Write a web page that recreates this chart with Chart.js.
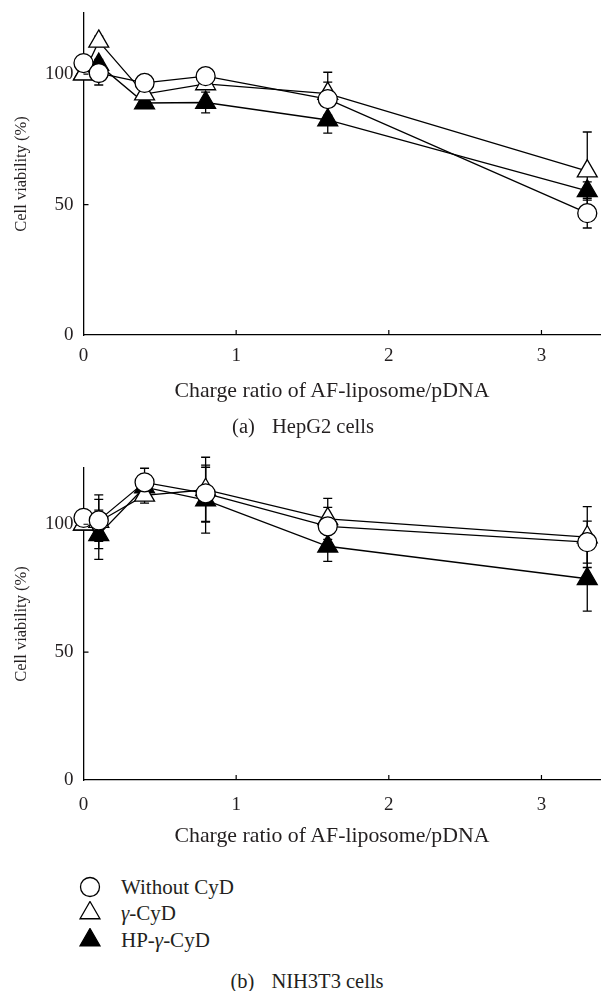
<!DOCTYPE html>
<html>
<head>
<meta charset="utf-8">
<script src="https://cdn.jsdelivr.net/npm/chart.js@4.4.1/dist/chart.umd.min.js"></script>
<style>
  html, body { margin: 0; padding: 0; background: #fff; }
  body { width: 601px; height: 991px; position: relative; overflow: hidden;
         font-family: 'Liberation Serif', 'Times New Roman', serif; color: #231f20; }
  canvas { position: absolute; left: 0; }
  .txt { position: absolute; white-space: pre; text-align: center; width: 500px; height: 26px; line-height: 26px; }
  .txt b { font-weight: normal; margin-left: 12px; }
  .leg { position: absolute; left: 78px; height: 26px; line-height: 26px; font-size: 21px; white-space: pre; }
  .leg svg { position: absolute; left: 0; top: 1px; }
  .leg span { position: absolute; left: 43px; top: 0; }
</style>
</head>
<body>
<canvas id="chartA" width="601" height="400" style="top:0"></canvas>
<canvas id="chartB" width="601" height="400" style="top:440px"></canvas>

<div class="txt" style="left:82px;top:377px;font-size:21.8px">Charge ratio of AF-liposome/pDNA</div>
<div class="txt" style="left:53px;top:413px;font-size:20.5px">(a) <b>HepG2 cells</b></div>
<div class="txt" style="left:82px;top:822px;font-size:21.8px">Charge ratio of AF-liposome/pDNA</div>
<div id="legend"></div>
<div class="txt" style="left:57px;top:968px;font-size:20.5px">(b) <b>NIH3T3 cells</b></div>

<script>
// ---------- dados
const ratios = [0, 0.1, 0.4, 0.8, 1.6, 3.3];
const seriesNames = ['Without CyD', 'γ-CyD', 'HP-γ-CyD'];
const xTicks = [0, 1, 2, 3];
const yTicks = [0, 50, 100];

// (a) HepG2
const hepWithout    = [104.2, 100.4, 96.6, 99.2, 90.4, 46.7];
const hepWithoutErr = [0, 4.6, 0, 2, 6.5, 5.7];
const hepGamma      = [100, 112.5, 92.3, 96.2, 92.5, 62.8];
const hepGammaErr   = [0, 2, 2, 2, 8.2, 15];
const hepHP         = [100, 103.6, 88.9, 89.1, 82.4, 55.2];
const hepHPErr      = [0, 2, 2, 4, 5, 3.5];

// (b) NIH3T3
const nihWithout    = [102.5, 101.5, 116.4, 112.1, 99.2, 93];
const nihWithoutErr = [0, 8.2, 5.5, 11, 7.4, 8.2];
const nihGamma      = [100, 101, 111.3, 113.5, 102.1, 95];
const nihGammaErr   = [0, 10.5, 3, 12.7, 8, 11.9];
const nihHP         = [100, 95.9, 114.5, 109.4, 91.4, 78.7];
const nihHPErr      = [0, 9.6, 3, 12.9, 5.9, 12.7];

const INK = '#231f20';
const FONT = "'Liberation Serif', 'Times New Roman', serif";

const markers = [
  { pointStyle: 'circle',   radius: 9.5,  fill: '#fff' },
  { pointStyle: 'triangle', radius: 11.5, fill: '#fff' },
  { pointStyle: 'triangle', radius: 11.5, fill: '#000' }
];

// barras de erro (desenhadas por baixo dos marcadores)
const errorBars = {
  id: 'errorBars',
  beforeDatasetsDraw(chart) {
    const { ctx } = chart;
    const y = chart.scales.y;
    ctx.save();
    ctx.strokeStyle = '#000';
    ctx.lineWidth = 1.3;
    chart.data.datasets.forEach((ds, di) => {
      const meta = chart.getDatasetMeta(di);
      meta.data.forEach((pt, i) => {
        const e = ds.errors[i];
        if (!e) return;
        const v = ds.data[i].y;
        const top = y.getPixelForValue(v + e);
        const bot = y.getPixelForValue(v - e);
        ctx.beginPath();
        ctx.moveTo(pt.x, top); ctx.lineTo(pt.x, bot);
        ctx.moveTo(pt.x - 4.5, top); ctx.lineTo(pt.x + 4.5, top);
        ctx.moveTo(pt.x - 4.5, bot); ctx.lineTo(pt.x + 4.5, bot);
        ctx.stroke();
      });
    });
    ctx.restore();
  }
};

// marcas de escala para dentro
const innerTicks = {
  id: 'innerTicks',
  afterDraw(chart) {
    const { ctx, chartArea } = chart;
    const { x, y } = chart.scales;
    ctx.save();
    ctx.strokeStyle = '#000';
    ctx.lineWidth = 1.2;
    ctx.beginPath();
    x.ticks.forEach(t => {
      if (t.value === 0) return;
      const px = x.getPixelForValue(t.value);
      ctx.moveTo(px, chartArea.bottom); ctx.lineTo(px, chartArea.bottom - 5);
    });
    y.ticks.forEach(t => {
      if (t.value === 0) return;
      const py = y.getPixelForValue(t.value);
      ctx.moveTo(chartArea.left, py); ctx.lineTo(chartArea.left + 5, py);
    });
    ctx.stroke();
    ctx.restore();
  }
};

function makeChart(id, series, errs, yMax, padTop, xHeight, xPad) {
  const datasets = series.map((vals, k) => ({
    label: seriesNames[k],
    data: ratios.map((r, i) => ({ x: r, y: vals[i] })),
    errors: errs[k],
    borderColor: '#000',
    borderWidth: 1.3,
    pointStyle: markers[k].pointStyle,
    pointRadius: markers[k].radius,
    pointBackgroundColor: markers[k].fill,
    pointBorderColor: '#000',
    pointBorderWidth: 1.3,
    tension: 0,
    clip: false
  }));

  return new Chart(document.getElementById(id), {
    type: 'line',
    data: { datasets },
    plugins: [errorBars, innerTicks],
    options: {
      responsive: false,
      animation: false,
      devicePixelRatio: 1,
      layout: { autoPadding: false, padding: { top: padTop, right: 0, left: 0, bottom: 0 } },
      plugins: { legend: { display: false }, tooltip: { enabled: false } },
      scales: {
        x: {
          type: 'linear', min: 0, max: 3.39,
          afterBuildTicks: s => { s.ticks = xTicks.map(v => ({ value: v })); },
          afterFit: s => { s.height = xHeight; s.paddingLeft = 0; s.paddingRight = 0; },
          grid: { display: false, drawTicks: false },
          border: { display: true, color: '#000', width: 1.3 },
          ticks: { color: INK, padding: xPad, maxRotation: 0, font: { family: FONT, size: 19 } }
        },
        y: {
          type: 'linear', min: 0, max: yMax,
          afterBuildTicks: s => { s.ticks = yTicks.map(v => ({ value: v })); },
          afterFit: s => { s.width = 83.5; s.paddingTop = 0; s.paddingBottom = 0; },
          grid: { display: false, drawTicks: false },
          border: { display: true, color: '#000', width: 1.3 },
          ticks: { color: INK, padding: 10, font: { family: FONT, size: 19 } },
          title: {
            display: true, text: 'Cell viability (%)', color: INK,
            padding: { top: 12, bottom: 0 },
            font: { family: FONT, size: 16.5 }
          }
        }
      }
    }
  });
}

makeChart('chartA', [hepWithout, hepGamma, hepHP], [hepWithoutErr, hepGammaErr, hepHPErr], 123.4, 13, 65, 10);
makeChart('chartB', [nihWithout, nihGamma, nihHP], [nihWithoutErr, nihGammaErr, nihHPErr], 122, 28, 60, 14);

// ---------- legenda (texto real, marcadores em SVG)
const legendRows = [887, 913, 940];
const tri = r => `${12},${12 - r} ${12 + r * 0.866},${12 + r / 2} ${12 - r * 0.866},${12 + r / 2}`;
const legend = document.getElementById('legend');
seriesNames.forEach((name, k) => {
  const m = markers[k];
  const shape = m.pointStyle === 'circle'
    ? `<circle cx="12" cy="12" r="${m.radius}" fill="${m.fill}" stroke="#000" stroke-width="1.3"/>`
    : `<polygon points="${tri(m.radius)}" fill="${m.fill}" stroke="#000" stroke-width="1.3"/>`;
  const row = document.createElement('div');
  row.className = 'leg';
  row.style.top = (legendRows[k] - 13) + 'px';
  row.innerHTML = `<svg width="24" height="24">${shape}</svg><span>${name.replace('γ', '<i>γ</i>')}</span>`;
  legend.appendChild(row);
});
</script>
</body>
</html>
